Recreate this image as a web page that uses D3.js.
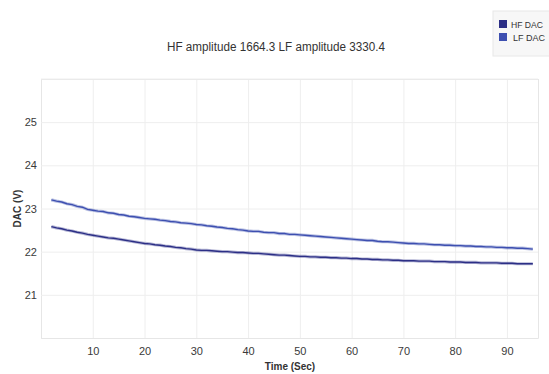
<!DOCTYPE html>
<html><head><meta charset="utf-8">
<script src="https://cdn.jsdelivr.net/npm/d3@7"></script>
<style>body{margin:0;background:#fff;} svg{display:block;}</style>
</head><body>
<script>
const title = "HF amplitude 1664.3 LF amplitude 3330.4";
const seriesNames = ["HF DAC", "LF DAC"];
const xTicks = [10,20,30,40,50,60,70,80,90];
const yTicks = [21,22,23,24,25];
const timeSec = d3.range(2, 96);
const hfDac = [22.58,22.55,22.53,22.50,22.48,22.45,22.43,22.40,22.38,
 22.36,22.34,22.32,22.31,22.29,22.27,22.25,22.23,22.21,22.19,
 22.18,22.16,22.15,22.13,22.12,22.10,22.09,22.07,22.06,22.04,
 22.03,22.03,22.02,22.01,22.00,22.00,21.99,21.98,21.98,21.97,
 21.96,21.96,21.95,21.94,21.93,21.92,21.92,21.91,21.90,21.89,
 21.89,21.88,21.88,21.87,21.87,21.86,21.86,21.85,21.85,21.84,
 21.84,21.83,21.83,21.82,21.82,21.81,21.81,21.80,21.80,21.79,
 21.79,21.79,21.78,21.78,21.78,21.77,21.77,21.77,21.76,21.76,
 21.76,21.75,21.75,21.75,21.74,21.74,21.74,21.74,21.73,21.73,
 21.73,21.72,21.72,21.72,21.72];
const lfDac = [23.20,23.17,23.15,23.11,23.09,23.05,23.03,22.98,22.96,
 22.94,22.93,22.90,22.89,22.86,22.85,22.82,22.81,22.79,22.77,
 22.76,22.75,22.73,22.72,22.70,22.69,22.67,22.66,22.65,22.63,
 22.62,22.60,22.59,22.57,22.56,22.54,22.53,22.51,22.50,22.48,
 22.47,22.47,22.45,22.44,22.44,22.42,22.42,22.40,22.40,22.39,
 22.38,22.37,22.36,22.35,22.34,22.33,22.32,22.31,22.30,22.29,
 22.28,22.27,22.26,22.26,22.24,22.23,22.23,22.22,22.21,22.20,
 22.19,22.19,22.18,22.18,22.17,22.16,22.16,22.15,22.15,22.14,
 22.14,22.13,22.13,22.12,22.12,22.11,22.11,22.10,22.10,22.09,
 22.09,22.08,22.08,22.07,22.06];
const colors = ["#2c2f86", "#3d4fb0"];

const W = 549, H = 374;
const m = {left: 41, right: 11, top: 79, bottom: 36};
const svg = d3.select("body").append("svg").attr("width", W).attr("height", H);
const x = d3.scaleLinear().domain([0, 96]).range([m.left, W - m.right]);
const y = d3.scaleLinear().domain([20, 26]).range([H - m.bottom, m.top]);
const font = "'Liberation Sans',Arial,sans-serif";

// grid
const gx = svg.append("g").attr("transform", `translate(0,${H - m.bottom})`)
  .call(d3.axisBottom(x).tickValues(xTicks).tickFormat(d3.format("d"))
    .tickSize(-(H - m.top - m.bottom)).tickPadding(9));
const gy = svg.append("g").attr("transform", `translate(${m.left},0)`)
  .call(d3.axisLeft(y).tickValues(yTicks).tickFormat(d3.format("d"))
    .tickSize(-(W - m.left - m.right)).tickPadding(4));
[gx, gy].forEach(g => {
  g.select(".domain").attr("stroke", "#e6e6e6");
  g.selectAll(".tick line").attr("stroke", "#eeeeee");
  g.selectAll("text").attr("fill", "#3a3a3a").attr("font-size", 11).attr("font-family", font);
});
svg.append("line").attr("x1", m.left).attr("x2", W - m.right).attr("y1", m.top).attr("y2", m.top)
  .attr("stroke", "#eeeeee");

const line = d3.line().x((d, i) => x(timeSec[i])).y(d => y(d));
[hfDac, lfDac].forEach((s, k) => {
  svg.append("path").datum(s).attr("d", line).attr("fill", "none")
    .attr("stroke", colors[k]).attr("stroke-opacity", 0.35).attr("stroke-width", 3.2);
  svg.append("path").datum(s).attr("d", line).attr("fill", "none")
    .attr("stroke", colors[k]).attr("stroke-width", 1.4);
});

svg.append("text").attr("x", 276).attr("y", 51).attr("text-anchor", "middle")
  .attr("font-family", font).attr("font-size", 12.5).attr("fill", "#333")
  .attr("textLength", 218).attr("lengthAdjust", "spacingAndGlyphs").text(title);

svg.append("text").attr("transform", `translate(21,${(m.top + H - m.bottom)/2}) rotate(-90)`)
  .attr("text-anchor", "middle").attr("font-family", font).attr("font-size", 10)
  .attr("font-weight", "bold").attr("fill", "#333").text("DAC (V)");
svg.append("text").attr("x", 290).attr("y", 370).attr("text-anchor", "middle")
  .attr("font-family", font).attr("font-size", 10).attr("font-weight", "bold")
  .attr("fill", "#333").text("Time (Sec)");

// legend
const lg = svg.append("g");
lg.append("rect").attr("x", 493).attr("y", 11).attr("width", 60).attr("height", 45)
  .attr("fill", "#f7f7f7").attr("stroke", "#e8e8e8");
seriesNames.forEach((n, i) => {
  lg.append("rect").attr("x", 499).attr("y", 20 + i * 13).attr("width", 8).attr("height", 8)
    .attr("fill", colors[i]);
  lg.append("text").attr("x", i === 0 ? 511 : 513).attr("y", 28 + i * 13)
    .attr("font-family", font).attr("font-size", 9).attr("fill", "#333")
    .attr("textLength", 32).attr("lengthAdjust", "spacingAndGlyphs").text(n);
});
</script>
</body></html>
